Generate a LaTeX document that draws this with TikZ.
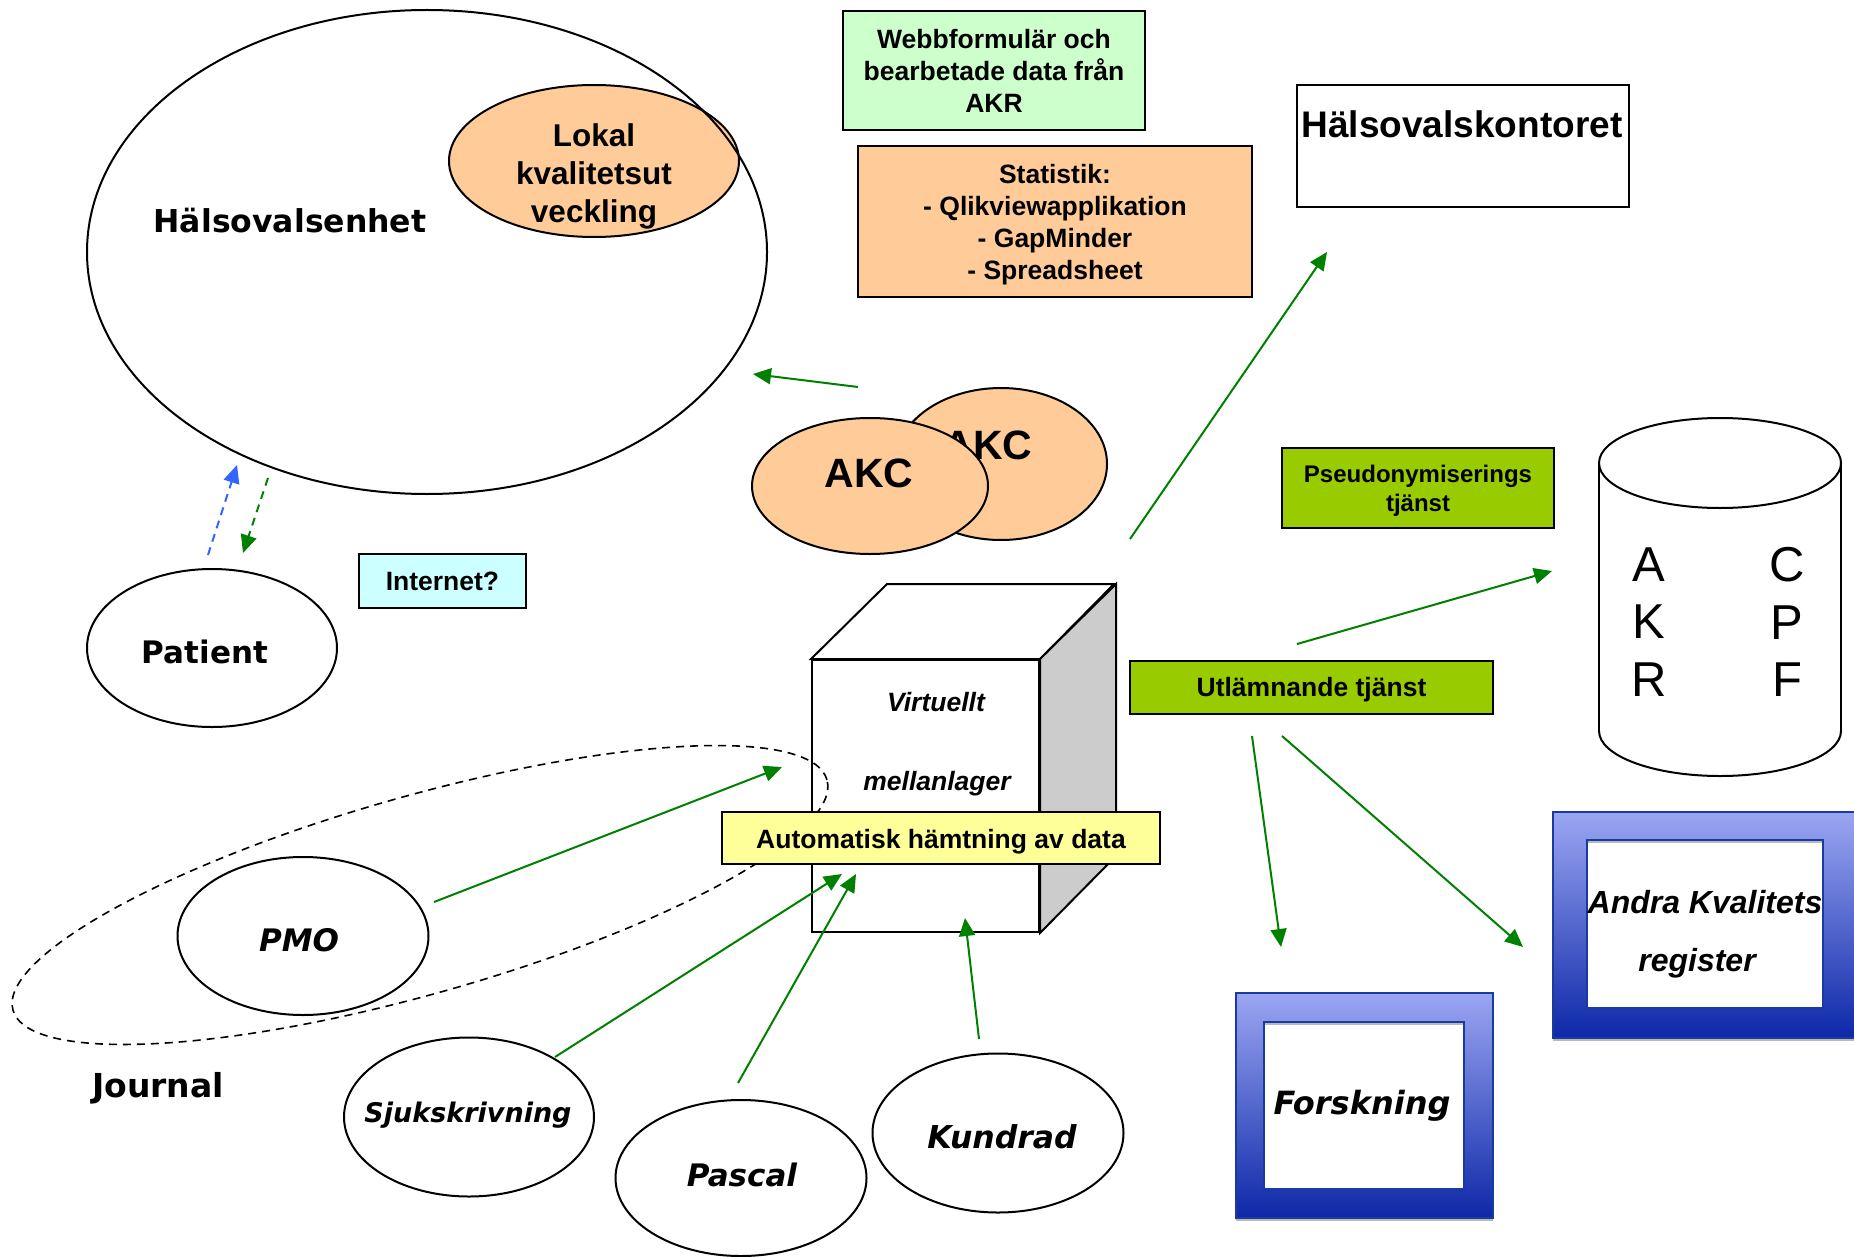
\documentclass[tikz,border=0pt]{standalone}
\usepackage{fontspec}
\setmainfont{Liberation Sans}
\newfontfamily\verd{DejaVu Sans}
\usetikzlibrary{arrows.meta,shapes.geometric}
\definecolor{peach}{HTML}{FFCC99}
\definecolor{mint}{HTML}{CCFFCC}
\definecolor{cyanl}{HTML}{CCFFFF}
\definecolor{yell}{HTML}{FFFF99}
\definecolor{limeg}{HTML}{99CC00}
\definecolor{sidegray}{HTML}{CCCCCC}
\definecolor{arrg}{HTML}{008000}
\definecolor{arrb}{HTML}{3366FF}
\definecolor{bluetop}{HTML}{9BA6F2}
\definecolor{bluemid}{HTML}{6A78D8}
\definecolor{bluebot}{HTML}{0D28A8}
\definecolor{blueline}{HTML}{1A3A9E}
\newcommand\fAB[2]{\fontsize{#1}{#2}\selectfont\bfseries}
\newcommand\fABI[2]{\fontsize{#1}{#2}\selectfont\bfseries\itshape}
\newcommand\fVB[2]{\verd\fontsize{#1}{#2}\selectfont\bfseries}
\newcommand\fVBI[2]{\verd\fontsize{#1}{#2}\selectfont\bfseries\itshape}
\tikzset{
  outl/.style={draw=black, line width=2pt},
  oval/.style={outl, ellipse, inner sep=0pt},
  boxr/.style={outl, rectangle, inner sep=0pt, align=center},
  txt/.style={inner sep=0pt, align=center},
  garr/.style={draw=arrg, line width=2pt, -{Triangle[length=18pt,width=16pt]}},
  gdarr/.style={draw=arrg, line width=2pt, dash pattern=on 8pt off 6pt, -{Triangle[length=18pt,width=16pt]}},
  bdarr/.style={draw=arrb, line width=2pt, dash pattern=on 8pt off 6pt, -{Triangle[length=18pt,width=16pt]}},
  gradbox/.style={rectangle, inner sep=0pt, top color=bluetop, middle color=bluemid, bottom color=bluebot, draw=blueline, line width=1.5pt},
  innerbox/.style={rectangle, inner sep=0pt, fill=white, draw=blueline, line width=1.5pt},
}
\begin{document}
\begin{tikzpicture}[x=1pt,y=-1pt]
\clip (0,0) rectangle (1854,1257);
\fill[white] (0,0) rectangle (1854,1257);

% Hälsovalsenhet with local development
\node[oval, fill=peach, minimum width=290pt, minimum height=152pt] (lokal) at (594,161) {};
\node[oval, minimum width=680pt, minimum height=484pt] (hels) at (427,252) {};
\node[txt, font=\fAB{31.5}{38}] (lokalt) at (594,176.5) {Lokal\\kvalitetsut\\veckling};
\node[txt, font=\fVB{31.5}{36}] (helst) at (290,221) {Hälsovalsenhet};

% top boxes
\node[boxr, fill=mint, minimum width=302pt, minimum height=119pt, font=\fAB{26.5}{32}] (webb) at (994,70.5) {Webbformulär och\\bearbetade data från\\AKR};
\node[boxr, fill=peach, minimum width=394pt, minimum height=151pt] (stat) at (1055,221.5) {};
\node[txt, font=\fAB{26.5}{32}] (statt) at (1055,224.5) {Statistik:\\- Qlikviewapplikation\\- GapMinder\\- Spreadsheet};
\node[boxr, fill=white, minimum width=332pt, minimum height=122pt] (hkont) at (1463,146) {};
\node[txt, font=\fAB{37}{44}] (hkontt) at (1462,124.5) {Hälsovalskontoret};

% AKC
\node[oval, fill=peach, minimum width=212pt, minimum height=152pt] (akcb) at (1001,464) {};
\node[txt, font=\fAB{41}{48}] (akcbt) at (988,445) {AKC};
\node[oval, fill=peach, minimum width=236pt, minimum height=136pt] (akcf) at (870,486) {};
\node[txt, font=\fAB{41}{48}] (akcft) at (869,473) {AKC};

% green service boxes
\node[boxr, fill=limeg, minimum width=272pt, minimum height=80pt] (pseudo) at (1418,488) {};
\node[txt, font=\fAB{24}{29}] (pseudot) at (1418,491) {Pseudonymiserings\\tjänst};
\node[boxr, fill=limeg, minimum width=363pt, minimum height=53pt] (utl) at (1311.5,687.5) {};
\node[txt, font=\fAB{26.5}{32}] (utlt) at (1311.5,690) {Utlämnande tjänst};

% cylinder
\fill[white] (1599,463) rectangle (1841,731);
\node[oval, fill=white, minimum width=242pt, minimum height=90pt] (cylbot) at (1720,731) {};
\fill[white] (1600,463) rectangle (1840,731);
\draw[line width=2pt] (1599,463) -- (1599,731);
\draw[line width=2pt] (1841,463) -- (1841,731);
\node[oval, fill=white, minimum width=242pt, minimum height=90pt] (cyltop) at (1720,463) {};
\node[txt, font=\fontsize{49}{57.5}\selectfont] (cylL) at (1649,622) {A\\K\\R};
\node[txt, font=\fontsize{49}{57.5}\selectfont] (cylR) at (1787,622) {C\\P\\F};

% cube
\node[outl, rectangle, fill=white, minimum width=227pt, minimum height=272pt, inner sep=0pt] (cube) at (925.5,796) {};
\path[outl, fill=white] (cube.north west) -- ++(76,-75) -- ++(227,0) -- (cube.north east) -- cycle;
\path[outl, fill=sidegray] (cube.north east) -- ++(76,-75) -- ++(0,272) -- (cube.south east) -- cycle;
\node[txt, font=\fABI{26.5}{32}] (cubet1) at (936,702) {Virtuellt};
\node[txt, font=\fABI{26.5}{32}] (cubet2) at (937,784) {mellanlager};

% Journal dashed group
\node[draw, ellipse, line width=1.6pt, dash pattern=on 8pt off 6pt, minimum width=846pt, minimum height=198pt, rotate=15.8, inner sep=0pt] (journ) at (420,895) {};
\node[txt, font=\fVB{33}{38}] (journt) at (158,1088) {Journal};

% yellow box
\node[boxr, fill=yell, minimum width=438pt, minimum height=52pt] (auto) at (941,838) {};
\node[txt, font=\fAB{26.5}{32}] (autot) at (941,842) {Automatisk hämtning av data};

% Internet
\node[boxr, fill=cyanl, minimum width=167pt, minimum height=54pt, font=\fAB{26.5}{32}] (inet) at (442.5,581) {Internet?};

% ellipses
\node[oval, fill=white, minimum width=250pt, minimum height=158pt] (patient) at (212,648) {};
\node[txt, font=\fVB{31}{37}] (patientt) at (205,652) {Patient};
\node[oval, fill=white, minimum width=251pt, minimum height=158pt] (pmo) at (303,936) {};
\node[txt, font=\fVBI{31}{37}] (pmot) at (299,940.5) {PMO};
\node[oval, fill=white, minimum width=250pt, minimum height=159pt] (sjuk) at (469,1117) {};
\node[txt, font=\fVBI{27}{32}] (sjukt) at (468,1115) {Sjukskrivning};
\node[oval, fill=white, minimum width=251pt, minimum height=156pt] (pascal) at (741,1178) {};
\node[txt, font=\fVBI{31}{37}] (pascalt) at (742,1175) {Pascal};
\node[oval, fill=white, minimum width=251pt, minimum height=159pt] (kund) at (998,1133) {};
\node[txt, font=\fVBI{31.5}{37}] (kundt) at (1002,1136.5) {Kundrad};

% Andra kvalitetsregister
\node[gradbox, minimum width=317pt, minimum height=226pt] (andra) at (1711.5,925) {};
\draw[gray!55, line width=2.5pt] (1553,1040) -- (1854,1040);
\node[innerbox, minimum width=236pt, minimum height=168pt] (andrain) at (1705,924) {};
\draw[gray!55, line width=2.5pt] (1588,842) -- (1822,842);
\node[txt, font=\fABI{32}{38}] (andrat1) at (1705,902) {Andra Kvalitets};
\node[txt, font=\fABI{32}{38}] (andrat2) at (1697,963) {register};

% Forskning
\node[gradbox, minimum width=257pt, minimum height=225pt] (forsk) at (1364.5,1105.5) {};
\draw[gray!55, line width=2.5pt] (1236,1220) -- (1493,1220);
\node[innerbox, minimum width=200pt, minimum height=167pt] (forskin) at (1364,1105.5) {};
\draw[gray!55, line width=2.5pt] (1265,1024) -- (1463,1024);
\node[txt, font=\fVBI{32}{38}] (forskt) at (1362,1106) {Forskning};

% arrow end points
\coordinate (a1s) at (858,387);  \coordinate (a1e) at (753,374);
\coordinate (a2s) at (1130,539); \coordinate (a2e) at (1327,252);
\coordinate (a3s) at (1297,644); \coordinate (a3e) at (1552,571);
\coordinate (a4s) at (1252,736); \coordinate (a4e) at (1281,947);
\coordinate (a5s) at (1282,736); \coordinate (a5e) at (1523,947);
\coordinate (a6s) at (434,902);  \coordinate (a6e) at (782,767);
\coordinate (a7s) at (555,1057); \coordinate (a7e) at (842,874);
\coordinate (a8s) at (738,1083); \coordinate (a8e) at (856,874);
\coordinate (a9s) at (979,1039); \coordinate (a9e) at (965,918);
\coordinate (b1s) at (208,555);  \coordinate (b1e) at (237,465);
\coordinate (g1s) at (268,478);  \coordinate (g1e) at (243,553);

\draw[garr] (a1s) -- (a1e);
\draw[garr] (a2s) -- (a2e);
\draw[garr] (a3s) -- (a3e);
\draw[garr] (a4s) -- (a4e);
\draw[garr] (a5s) -- (a5e);
\draw[garr] (a6s) -- (a6e);
\draw[garr] (a7s) -- (a7e);
\draw[garr] (a8s) -- (a8e);
\draw[garr] (a9s) -- (a9e);
\draw[bdarr] (b1s) -- (b1e);
\draw[gdarr] (g1s) -- (g1e);
\end{tikzpicture}
\end{document}
